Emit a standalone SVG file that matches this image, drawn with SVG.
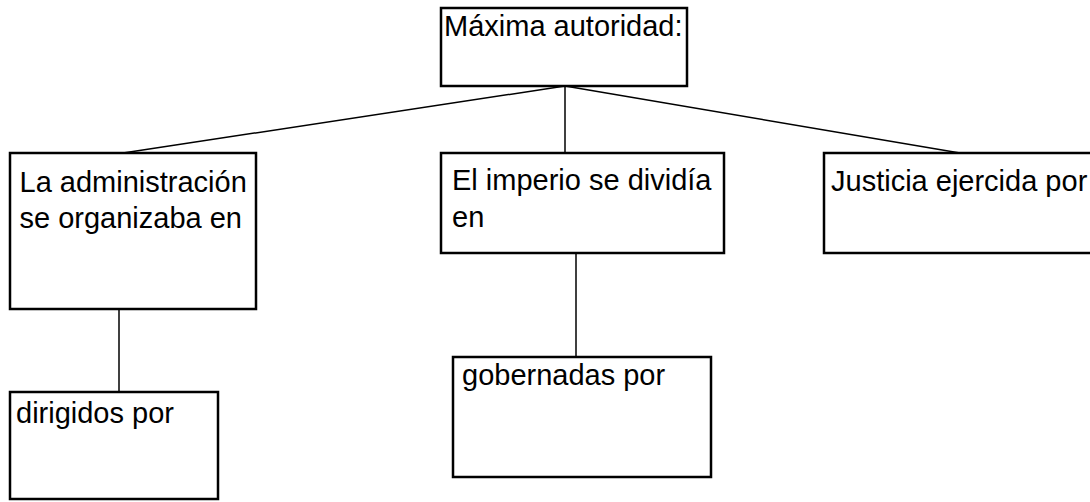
<svg xmlns="http://www.w3.org/2000/svg" width="1090" height="502" viewBox="0 0 1090 502">
<style>
.box{fill:#fff;stroke:#000;stroke-width:2.5}
.t{font-family:"Liberation Sans",Arial,sans-serif;font-size:29px;fill:#000}
.c{stroke:#000;stroke-width:1.5;fill:none}
</style>
<rect width="1090" height="502" fill="#fff"/>
<g id="connectors">
<line class="c" x1="565" y1="86" x2="123" y2="153"/>
<line class="c" x1="565" y1="86" x2="565" y2="153"/>
<line class="c" x1="565" y1="86" x2="960" y2="153"/>
<line class="c" x1="119" y1="309" x2="119" y2="392"/>
<line class="c" x1="576" y1="253" x2="576" y2="357"/>
</g>
<g id="n-maxima">
<rect class="box" x="441" y="8" width="246" height="78"/>
<text class="t" x="444" y="36">Máxima autoridad:</text>
</g>
<g id="n-administracion">
<rect class="box" x="10" y="153" width="246" height="156"/>
<text class="t" x="19.5" y="192">La administración</text>
<text class="t" x="19.5" y="228">se organizaba en</text>
</g>
<g id="n-dirigidos">
<rect class="box" x="10" y="392" width="208" height="107"/>
<text class="t" x="16" y="423">dirigidos por</text>
</g>
<g id="n-imperio">
<rect class="box" x="441" y="153" width="283" height="100"/>
<text class="t" x="452" y="189.5">El imperio se dividía</text>
<text class="t" x="452" y="226.5">en</text>
</g>
<g id="n-gobernadas">
<rect class="box" x="453" y="357" width="258" height="120"/>
<text class="t" x="462" y="385">gobernadas por</text>
</g>
<g id="n-justicia">
<rect class="box" x="824" y="153" width="280" height="100"/>
<text class="t" x="831" y="191">Justicia ejercida por</text>
</g>
</svg>
